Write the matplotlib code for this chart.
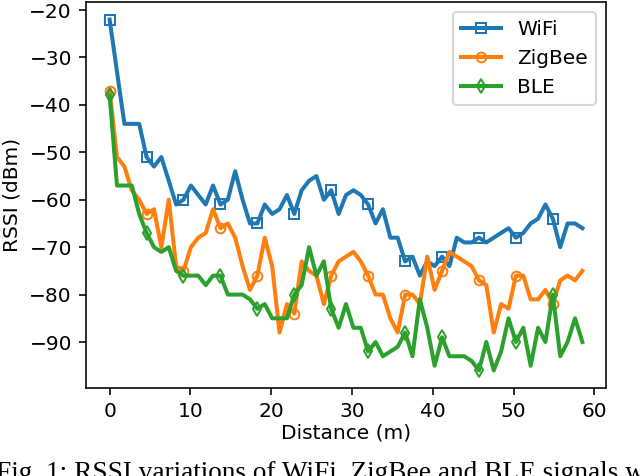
import matplotlib
matplotlib.use("Agg")
import matplotlib.pyplot as plt

# distance of each measurement point (m)
distance = [0.00, 0.91, 1.83, 2.74, 3.66, 4.57, 5.49, 6.40, 7.32, 8.23,
            9.14, 10.06, 10.97, 11.89, 12.80, 13.72, 14.63, 15.54, 16.46, 17.37,
            18.29, 19.20, 20.12, 21.03, 21.95, 22.86, 23.77, 24.69, 25.60, 26.52,
            27.43, 28.35, 29.26, 30.18, 31.09, 32.00, 32.92, 33.83, 34.75, 35.66,
            36.58, 37.49, 38.40, 39.32, 40.23, 41.15, 42.06, 42.98, 43.89, 44.81,
            45.72, 46.63, 47.55, 48.46, 49.38, 50.29, 51.21, 52.12, 53.04, 53.95,
            54.86, 55.78, 56.69, 57.61, 58.52]

wifi = [-22, -33, -44, -44, -44, -51, -53, -51, -56, -61,
        -60, -57, -59, -61, -57, -61, -60, -54, -60, -65,
        -65, -61, -63, -62, -59, -63, -58, -56, -55, -60,
        -58, -63, -59, -58, -59, -61, -65, -62, -68, -68,
        -73, -72, -76, -73, -74, -72, -74, -68, -69, -69,
        -68, -69, -68, -67, -66, -68, -67, -65, -64, -61,
        -64, -70, -65, -65, -66]

zigbee = [-37, -51, -53, -58, -60, -63, -62, -70, -60, -74,
          -75, -70, -68, -67, -62, -66, -65, -68, -74, -79,
          -76, -68, -74, -88, -82, -84, -73, -75, -76, -82,
          -76, -73, -72, -71, -73, -76, -80, -80, -85, -88,
          -80, -80, -82, -72, -79, -75, -71, -72, -73, -74,
          -77, -78, -88, -82, -83, -76, -76, -81, -81, -79,
          -82, -77, -76, -77, -75]

ble = [-38, -57, -57, -57, -63, -67, -70, -71, -70, -75,
       -76, -76, -76, -78, -76, -76, -80, -80, -80, -81,
       -83, -82, -85, -85, -85, -80, -78, -70, -76, -73,
       -83, -87, -82, -87, -87, -92, -90, -93, -92, -91,
       -88, -93, -81, -87, -95, -89, -93, -93, -93, -94,
       -96, -90, -96, -92, -85, -90, -87, -95, -87, -90,
       -80, -93, -90, -85, -90]

fig = plt.figure(figsize=(640 / 145, 476 / 145), dpi=145)
ax = fig.add_axes([86 / 640, 88 / 476, 520 / 640, 386 / 476])

style = dict(markevery=5, markersize=4.8, markerfacecolor="none", linewidth=2, markeredgewidth=1)
ax.plot(distance, wifi, marker="s", label="WiFi", **style)
ax.plot(distance, zigbee, marker="o", label="ZigBee", **style)
ax.plot(distance, ble, marker="d", label="BLE", **style)

ax.set_xlabel("Distance (m)", labelpad=1)
ax.set_ylabel("RSSI (dBm)")
ax.set_xticks([0, 10, 20, 30, 40, 50, 60])
ax.set_yticks([-20, -30, -40, -50, -60, -70, -80, -90])
ax.legend(loc="upper right")

fig.text(-0.006, -0.008, "Fig. 1: RSSI variations of WiFi, ZigBee and BLE signals with distance",
         family="Liberation Serif", fontsize=13.5, ha="left", va="baseline")

fig.savefig("out.png", dpi=145)
